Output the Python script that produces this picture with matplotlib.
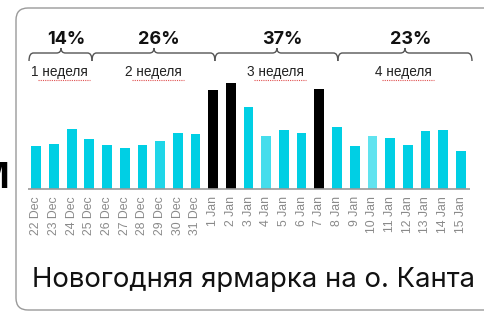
import matplotlib
matplotlib.use("Agg")
import matplotlib.pyplot as plt
from matplotlib.path import Path
from matplotlib.patches import PathPatch, FancyBboxPatch

# days and visitors (bar heights)
days = ["22 Dec", "23 Dec", "24 Dec", "25 Dec", "26 Dec", "27 Dec", "28 Dec",
        "29 Dec", "30 Dec", "31 Dec", "1 Jan", "2 Jan", "3 Jan", "4 Jan",
        "5 Jan", "6 Jan", "7 Jan", "8 Jan", "9 Jan", "10 Jan", "11 Jan",
        "12 Jan", "13 Jan", "14 Jan", "15 Jan"]
values = [43, 45, 60, 50, 44, 41, 44, 48, 56, 55, 99, 106, 82, 53,
          59, 56, 100, 62, 43, 53, 51, 44, 58, 59, 38]
holidays = ["1 Jan", "2 Jan", "7 Jan"]
lighter = {"29 Dec": "#1fd6e8", "4 Jan": "#45ddec", "10 Jan": "#60e3ef"}

week_labels = ["1 неделя", "2 неделя", "3 неделя", "4 неделя"]
week_share = ["14%", "26%", "37%", "23%"]
title = "Новогодняя ярмарка на о. Канта"

cyan = "#00cfe4"
colors = []
for d in days:
    if d in holidays:
        colors.append("black")
    else:
        colors.append(lighter.get(d, cyan))

fig = plt.figure(figsize=(4.85, 3.11), dpi=100)
ax = fig.add_axes([20 / 485, (311 - 189) / 311, 455 / 485, 181 / 311])
ax.set_xlim(-0.92, 24.8)
ax.set_ylim(0, 181)

x = list(range(len(days)))
ax.bar(x, values, width=0.55, color=colors)
ax.hlines(0, -0.49, 24.52, color="#999999", lw=1.2, clip_on=False)

for s in ax.spines.values():
    s.set_visible(False)
ax.set_yticks([])
ax.set_xticks(x)
ax.set_xticklabels(days, rotation=90, fontsize=8.8, color="#8a8a8a",
                   family="Liberation Sans")
ax.tick_params(axis="x", length=0, pad=5)


def brace(x0, x1, xp, yh=128, yl=136, yp=141, dx=0.25):
    verts = [(x0, yh), (x0, yl), (x0 + dx, yl),
             (xp - dx, yl),
             (xp, yl), (xp, yp),
             (xp, yl), (xp + dx, yl),
             (x1 - dx, yl),
             (x1, yl), (x1, yh)]
    codes = [Path.MOVETO, Path.CURVE3, Path.CURVE3,
             Path.LINETO,
             Path.CURVE3, Path.CURVE3,
             Path.CURVE3, Path.CURVE3,
             Path.LINETO,
             Path.CURVE3, Path.CURVE3]
    ax.add_patch(PathPatch(Path(verts, codes), fill=False, ec="#555555",
                           lw=1, clip_on=False))


spans = [(-0.41, 3.15, 1.4), (3.15, 10.1, 6.65), (10.1, 17.05, 13.6),
         (17.05, 24.63, 20.84)]
label_x = [1.32, 6.64, 13.54, 20.78]
for (x0, x1, xp), lx, wl, sh in zip(spans, label_x, week_labels, week_share):
    brace(x0, x1, xp)
    ax.text(xp + 0.3, 150, sh, ha="center", va="center", fontsize=13,
            fontweight="bold", family="Inter", color="#111111")
    ax.text(lx, 117, wl, ha="center", va="center", fontsize=9.8,
            family="Liberation Sans", color="#222222")
    # spell-check underline under the word
    ax.plot([lx - 22 / 17.69, lx + 30 / 17.69], [109.5, 109.5], color="#e05050",
            lw=0.8, ls=(0, (1, 1)), clip_on=False)

fig.text(254 / 485, (311 - 287) / 311, title, ha="center", va="baseline",
         fontsize=19.8, family="Inter", color="#111111")
fig.text(9 / 485, (311 - 188) / 311, "М", ha="right", va="baseline",
         fontsize=26, family="Inter", fontweight="bold", color="black")

frame = FancyBboxPatch((0.16, 0.01), 5.2, 3.02,
                       boxstyle="round,pad=0,rounding_size=0.12",
                       transform=fig.dpi_scale_trans, fill=False,
                       ec="#9a9a9a", lw=1)
fig.add_artist(frame)

fig.savefig("out.png", dpi=100)
